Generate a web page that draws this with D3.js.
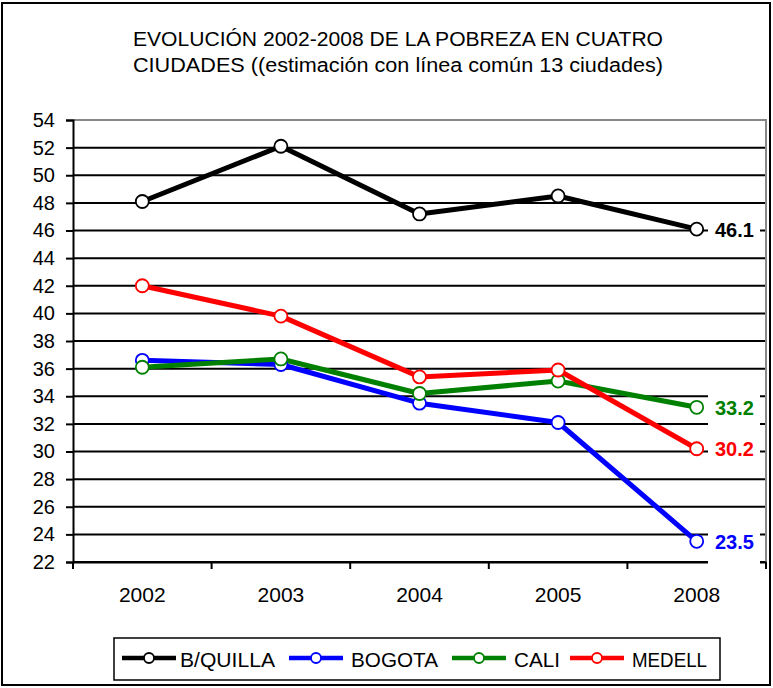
<!DOCTYPE html>
<html>
<head>
<meta charset="utf-8">
<script src="https://cdn.jsdelivr.net/npm/d3@7"></script>
<style>
  body { margin: 0; background: #fff; }
  text { font-family: "Liberation Sans", Arial, sans-serif; }
</style>
</head>
<body>
<div id="chart"></div>
<script>
const years = ['2002', '2003', '2004', '2005', '2008'];
const bquilla = [48.1, 52.1, 47.2, 48.5, 46.1];
const bogota = [36.6, 36.3, 33.5, 32.1, 23.5];
const cali = [36.1, 36.7, 34.2, 35.1, 33.2];
const medell = [42.0, 39.8, 35.4, 35.9, 30.2];
const yTicks = d3.range(22, 55, 2);

const series = [
    {name: 'B/QUILLA', values: bquilla, color: '#000000'},
    {name: 'BOGOTA', values: bogota, color: '#0000ff'},
    {name: 'CALI', values: cali, color: '#008000'},
    {name: 'MEDELL', values: medell, color: '#ff0000'}
];

const width = 773, height = 688;
const plotLeft = 73, plotRight = 766, plotTop = 120, plotBottom = 562;
const font = '"Liberation Sans", Arial, sans-serif';

const svg = d3.select('#chart').append('svg')
    .attr('width', width)
    .attr('height', height);

// outer frame
svg.append('rect')
    .attr('x', 2).attr('y', 3).attr('width', 768).attr('height', 682)
    .attr('fill', '#fff').attr('stroke', '#000').attr('stroke-width', 2);

// title
const title = ['EVOLUCIÓN 2002-2008 DE LA POBREZA EN CUATRO',
               'CIUDADES ((estimación con línea común 13 ciudades)'];
svg.selectAll('.title')
    .data(title)
    .enter().append('text')
    .attr('class', 'title')
    .attr('x', 133)
    .attr('y', (d, i) => 46 + i * 26)
    .attr('textLength', 530)
    .attr('lengthAdjust', 'spacingAndGlyphs')
    .style('font-size', '20px')
    .text(d => d);

const x = d3.scaleBand().domain(years).range([plotLeft, plotRight]);
const y = d3.scaleLinear().domain([22, 54]).range([plotBottom, plotTop]);
const cx = d => x(d) + x.bandwidth() / 2;

// gridlines
svg.append('g')
    .selectAll('line')
    .data(yTicks.filter(t => t < 54))
    .enter().append('line')
    .attr('x1', plotLeft).attr('x2', plotRight)
    .attr('y1', d => y(d)).attr('y2', d => y(d))
    .attr('stroke', '#000').attr('stroke-width', 2);

// plot border top & right (gray)
svg.append('path')
    .attr('d', `M${plotLeft},${y(54)}H${plotRight}V${plotBottom + 6}`)
    .attr('fill', 'none').attr('stroke', '#888').attr('stroke-width', 2);

// y axis
const yAxis = svg.append('g')
    .attr('transform', `translate(${plotLeft},0)`)
    .call(d3.axisLeft(y).tickValues(yTicks).tickSize(7).tickPadding(11));
yAxis.select('.domain').attr('stroke', '#000').attr('stroke-width', 2);
yAxis.selectAll('.tick line').attr('stroke', '#000').attr('stroke-width', 2);
yAxis.selectAll('text')
    .style('font-size', '20px')
    .style('font-family', font)
    .attr('fill', '#000');

// x axis
const xAxis = svg.append('g')
    .attr('transform', `translate(0,${plotBottom})`)
    .call(d3.axisBottom(x).tickSize(0).tickPadding(25));
xAxis.select('.domain').attr('stroke', '#000').attr('stroke-width', 2);
xAxis.selectAll('text')
    .style('font-size', '21px')
    .style('font-family', font)
    .attr('fill', '#000');
xAxis.selectAll('.bt')
    .data(d3.range(years.length + 1))
    .enter().append('line')
    .attr('x1', i => plotLeft + i * x.bandwidth())
    .attr('x2', i => plotLeft + i * x.bandwidth())
    .attr('y1', 0).attr('y2', 7)
    .attr('stroke', '#000').attr('stroke-width', 2);

// series lines and markers
const line = d3.line()
    .x((d, i) => cx(years[i]))
    .y(d => y(d));

series.forEach(s => {
    svg.append('path')
        .datum(s.values)
        .attr('d', line)
        .attr('fill', 'none')
        .attr('stroke', s.color)
        .attr('stroke-width', 5)
        .attr('stroke-linejoin', 'round');
});
series.forEach(s => {
    svg.append('g').selectAll('circle')
        .data(s.values)
        .enter().append('circle')
        .attr('cx', (d, i) => cx(years[i]))
        .attr('cy', d => y(d))
        .attr('r', 6.5)
        .attr('fill', '#fff')
        .attr('stroke', s.color)
        .attr('stroke-width', 1.8);
});

// end labels with white boxes
const last = years.length - 1;
series.forEach(s => {
    const v = s.values[last];
    const ly = y(v);
    svg.append('rect')
        .attr('x', 708).attr('y', ly - 15)
        .attr('width', 52).attr('height', 40)
        .attr('fill', '#fff');
    svg.append('text')
        .attr('x', 715)
        .attr('y', ly + 7.5)
        .style('font-size', '20px')
        .style('font-weight', 'bold')
        .attr('fill', s.color)
        .text(v.toFixed(1));
});

// legend
const legend = svg.append('g');
legend.append('rect')
    .attr('x', 114).attr('y', 638).attr('width', 606).attr('height', 42)
    .attr('fill', '#fff').attr('stroke', '#000').attr('stroke-width', 1.5);
const legendX = [122, 289, 452, 570];
const legendW = [95, 87, 46, 75];
const item = legend.selectAll('.item')
    .data(series)
    .enter().append('g')
    .attr('transform', (d, i) => `translate(${legendX[i]},658)`);
item.append('line')
    .attr('x1', 0).attr('x2', 54)
    .attr('stroke', d => d.color).attr('stroke-width', 4.5);
item.append('circle')
    .attr('cx', 27).attr('r', 5)
    .attr('fill', '#fff')
    .attr('stroke', d => d.color).attr('stroke-width', 1.8);
item.append('text')
    .attr('x', (d, i) => i === 0 ? 58 : 62)
    .attr('y', 9)
    .attr('textLength', (d, i) => legendW[i])
    .attr('lengthAdjust', 'spacingAndGlyphs')
    .style('font-size', '21px')
    .text(d => d.name);
</script>
</body>
</html>
